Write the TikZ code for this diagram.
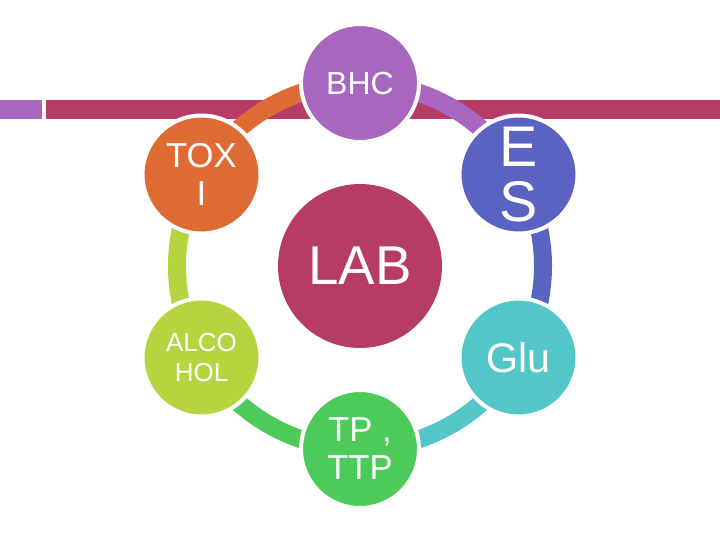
\documentclass[tikz,border=0pt]{standalone}
\usepackage{fontspec}
\setmainfont{Liberation Sans}
\usetikzlibrary{backgrounds}
\definecolor{labred}{HTML}{B73B67}
\definecolor{bhcpurple}{HTML}{A866BE}
\definecolor{esblue}{HTML}{5A63C1}
\definecolor{gluteal}{HTML}{52C6C8}
\definecolor{tpgreen}{HTML}{4CCB5B}
\definecolor{alcolime}{HTML}{B6D43F}
\definecolor{toxorange}{HTML}{DF6B34}
\tikzset{x=.75pt,y=.75pt,
  every node/.style={text=white,align=center},
  bubble/.style={circle,draw=white,line width=3pt,minimum size=88.5pt,inner sep=0pt},
  hub/.style={circle,fill=labred,minimum size=123pt,inner sep=0pt},
  ring/.style={line width=13.5pt}}
\begin{document}
\begin{tikzpicture}
\useasboundingbox (0,0) rectangle (720,540);
\node[hub,font=\fontsize{41}{45}\selectfont] (lab) at (360,274) {LAB};
\node[bubble,fill=bhcpurple,font=\fontsize{24}{28}\selectfont] (bhc) at (360,457) {BHC};
\node[bubble,fill=esblue,font=\fontsize{43}{41}\selectfont] (es) at (518.5,365.5) {E\\S};
\node[bubble,fill=gluteal,font=\fontsize{31}{35}\selectfont] (glu) at (518.5,182.5) {Glu};
\node[bubble,fill=tpgreen,font=\fontsize{26}{28.5}\selectfont] (tp) at (360,91) {TP ,\\TTP};
\node[bubble,fill=alcolime,font=\fontsize{19.5}{22.5}\selectfont] (alco) at (201.5,182.5) {ALCO\\HOL};
\node[bubble,fill=toxorange,font=\fontsize{26}{29}\selectfont] (tox) at (201.5,365.5) {TOX\\I};
\begin{scope}[on background layer]
\fill[bhcpurple] (0,421) rectangle (42,440);
\fill[labred] (46,421) rectangle (720,440);
\draw[ring,bhcpurple] (bhc.center) arc[start angle=90,end angle=30,radius=183];
\draw[ring,esblue] (es.center) arc[start angle=30,end angle=-30,radius=183];
\draw[ring,gluteal] (glu.center) arc[start angle=-30,end angle=-90,radius=183];
\draw[ring,tpgreen] (tp.center) arc[start angle=-90,end angle=-150,radius=183];
\draw[ring,alcolime] (alco.center) arc[start angle=210,end angle=150,radius=183];
\draw[ring,toxorange] (tox.center) arc[start angle=150,end angle=90,radius=183];
\end{scope}
\end{tikzpicture}
\end{document}
